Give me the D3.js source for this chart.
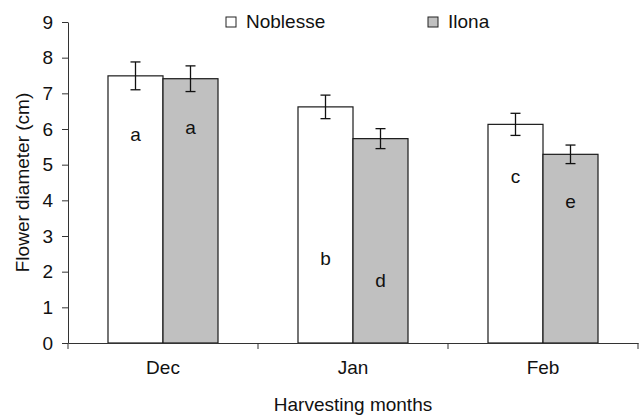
<!DOCTYPE html>
<html>
<head>
<meta charset="utf-8">
<script src="https://cdn.jsdelivr.net/npm/d3@7"></script>
<style>
  body { margin: 0; background: #fff; }
  svg text { font-family: "Liberation Sans", Arial, sans-serif; fill: #111; }
</style>
</head>
<body>
<div id="chart"></div>
<script>
// harvest months and cultivars
const months = ["Dec", "Jan", "Feb"];
const cultivars = ["Noblesse", "Ilona"];
const noblesse = [7.49, 6.62, 6.13];
const ilona = [7.41, 5.73, 5.29];
const noblesseErr = [0.39, 0.33, 0.31];
const ilonaErr = [0.36, 0.28, 0.26];
// significance letters and the height (cm) they sit at
const noblesseLetters = ["a", "b", "c"];
const ilonaLetters = ["a", "d", "e"];
const noblesseLetterY = [5.83, 2.35, 4.65];
const ilonaLetterY = [6.03, 1.74, 3.95];
const yTicks = [0, 1, 2, 3, 4, 5, 6, 7, 8, 9];

const colors = {Noblesse: "#ffffff", Ilona: "#c0c0c0"};
const fs = "19px";

const W = 643, H = 418;
const margin = {top: 22, right: 5, bottom: 75, left: 68};
const width = W - margin.left - margin.right,
      height = H - margin.top - margin.bottom;

const svg = d3.select("#chart").append("svg")
    .attr("width", W).attr("height", H);
const g = svg.append("g")
    .attr("transform", "translate(" + margin.left + "," + margin.top + ")");

const x = d3.scaleBand().domain(months).range([0, width]).padding(0);
const xs = d3.scaleBand().domain(cultivars)
    .range([x.bandwidth() * 0.2105, x.bandwidth() * 0.7895]).padding(0);
const y = d3.scaleLinear().domain([0, 9]).range([height, 0]);

const rows = [];
months.forEach((m, i) => {
  rows.push({month: m, cv: "Noblesse", v: noblesse[i], e: noblesseErr[i], l: noblesseLetters[i], ly: noblesseLetterY[i]});
  rows.push({month: m, cv: "Ilona", v: ilona[i], e: ilonaErr[i], l: ilonaLetters[i], ly: ilonaLetterY[i]});
});

// bars
g.selectAll("rect.bar").data(rows).join("rect")
    .attr("class", "bar")
    .attr("x", d => x(d.month) + xs(d.cv))
    .attr("y", d => y(d.v))
    .attr("width", xs.bandwidth())
    .attr("height", d => y(0) - y(d.v))
    .attr("fill", d => colors[d.cv])
    .attr("stroke", "#1a1a1a")
    .attr("stroke-width", 1.2);

// error bars
const eb = g.selectAll("g.err").data(rows).join("g").attr("class", "err")
    .attr("transform", d => "translate(" + (x(d.month) + xs(d.cv) + xs.bandwidth() / 2) + ",0)")
    .attr("stroke", "#111").attr("stroke-width", 1.3);
eb.append("line").attr("y1", d => y(d.v + d.e)).attr("y2", d => y(d.v - d.e));
eb.append("line").attr("x1", -5).attr("x2", 5).attr("y1", d => y(d.v + d.e)).attr("y2", d => y(d.v + d.e));
eb.append("line").attr("x1", -5).attr("x2", 5).attr("y1", d => y(d.v - d.e)).attr("y2", d => y(d.v - d.e));

// letters
g.selectAll("text.letter").data(rows).join("text")
    .attr("class", "letter")
    .attr("x", d => x(d.month) + xs(d.cv) + xs.bandwidth() / 2)
    .attr("y", d => y(d.ly))
    .attr("dy", "0.32em")
    .attr("text-anchor", "middle")
    .style("font-size", fs)
    .text(d => d.l);

// y axis
const yAxis = g.append("g")
    .call(d3.axisLeft(y).tickValues(yTicks).tickSize(6).tickSizeOuter(0).tickPadding(9));
yAxis.select(".domain").attr("stroke", "#333");
yAxis.selectAll(".tick line").attr("stroke", "#333");
yAxis.selectAll("text").style("font-size", fs).attr("fill", "#111");

// x axis
const xAxis = g.append("g")
    .attr("transform", "translate(0," + height + ")")
    .call(d3.axisBottom(x).tickSize(0).tickPadding(18));
xAxis.select(".domain").attr("stroke", "#333");
xAxis.selectAll("text").style("font-size", fs).attr("fill", "#111");
xAxis.selectAll("line.sep").data(months.concat(["end"])).join("line")
    .attr("class", "sep")
    .attr("x1", (d, i) => i * x.step()).attr("x2", (d, i) => i * x.step())
    .attr("y1", 0).attr("y2", 6)
    .attr("stroke", "#333");

// axis titles
svg.append("text")
    .attr("x", margin.left + width / 2).attr("y", 411)
    .attr("text-anchor", "middle")
    .style("font-size", fs)
    .text("Harvesting months");
svg.append("text")
    .attr("transform", "translate(29," + (margin.top + height / 2) + ") rotate(-90)")
    .attr("text-anchor", "middle")
    .style("font-size", fs)
    .text("Flower diameter (cm)");

// legend
const legX = [226, 428];
const leg = svg.selectAll("g.leg").data(cultivars).join("g").attr("class", "leg")
    .attr("transform", (d, i) => "translate(" + legX[i] + ",17)");
leg.append("rect").attr("width", 10).attr("height", 10)
    .attr("fill", d => colors[d]).attr("stroke", "#222").attr("stroke-width", 1);
leg.append("text").attr("x", 20).attr("y", 10.5)
    .style("font-size", fs)
    .text(d => d);
</script>
</body>
</html>
